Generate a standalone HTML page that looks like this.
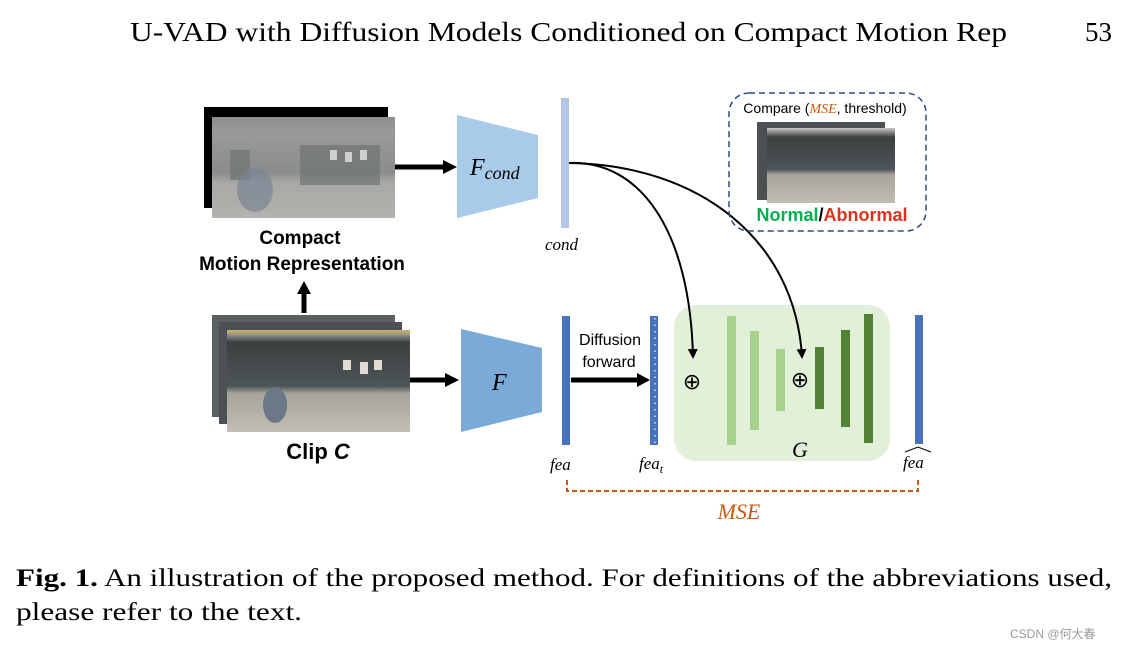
<!DOCTYPE html>
<html><head><meta charset="utf-8"><style>
html,body{margin:0;padding:0;background:#fff;}
svg{display:block;}
</style></head><body>
<svg width="1125" height="649" viewBox="0 0 1125 649" xmlns="http://www.w3.org/2000/svg">
<defs>
<linearGradient id="gTop" x1="0" y1="0" x2="0" y2="1">
<stop offset="0" stop-color="#8c8e90"/><stop offset="0.15" stop-color="#9a9a98"/><stop offset="0.55" stop-color="#8a8c8c"/><stop offset="0.65" stop-color="#a8a8a6"/><stop offset="1" stop-color="#b4b2ae"/>
</linearGradient>
<linearGradient id="gClip" x1="0" y1="0" x2="0" y2="1">
<stop offset="0" stop-color="#c8c8c8"/><stop offset="0.12" stop-color="#3c3f40"/><stop offset="0.55" stop-color="#4d5556"/><stop offset="0.62" stop-color="#a6a39c"/><stop offset="1" stop-color="#c2beb6"/>
</linearGradient>
<marker id="ah" markerWidth="10" markerHeight="10" refX="8" refY="5" orient="auto" markerUnits="userSpaceOnUse"><path d="M0,0 L10,5 L0,10 z" fill="#000"/></marker>
</defs>
<g font-family="Liberation Serif, serif" fill="#000">
<text x="130" y="41" font-size="27" textLength="877" lengthAdjust="spacingAndGlyphs">U-VAD with Diffusion Models Conditioned on Compact Motion Rep</text>
<text x="1085" y="41" font-size="27">53</text>
</g>
<!-- top image -->
<rect x="204" y="107" width="184" height="101" fill="#000"/>
<rect x="212" y="117" width="183" height="101" fill="url(#gTop)"/>
<g fill="#6f7274" opacity="0.7"><rect x="300" y="145" width="80" height="40"/><rect x="230" y="150" width="20" height="30"/></g>
<g fill="#d0d0d0"><rect x="330" y="150" width="7" height="10"/><rect x="345" y="152" width="7" height="10"/><rect x="360" y="150" width="7" height="10"/></g>
<ellipse cx="255" cy="190" rx="18" ry="22" fill="#7a8494" opacity="0.7"/>
<line x1="395" y1="167" x2="447" y2="167" stroke="#000" stroke-width="5"/>
<path d="M443,160 L457,167 L443,174 z" fill="#000"/>
<polygon points="457,115 538,135 538,198 457,218" fill="#a9cbea"/>
<text x="470" y="175" font-family="Liberation Serif, serif" font-style="italic" font-size="24">F<tspan font-size="18" dy="4">cond</tspan></text>
<rect x="561" y="98" width="8" height="130" fill="#b4c6e7"/>
<text x="545" y="250" font-family="Liberation Serif, serif" font-style="italic" font-size="17">cond</text>
<g font-family="Liberation Sans, sans-serif" font-weight="bold" font-size="19" text-anchor="middle">
<text x="300" y="244">Compact</text>
<text x="302" y="270">Motion Representation</text>
<text x="318" y="459" font-size="22">Clip <tspan font-style="italic">C</tspan></text>
</g>
<line x1="304" y1="313" x2="304" y2="292" stroke="#000" stroke-width="5"/>
<path d="M297,294 L304,281 L311,294 z" fill="#000"/>
<!-- clip -->
<rect x="212" y="315" width="183" height="102" fill="#5a5f60"/>
<rect x="219" y="322" width="183" height="102" fill="#4b5152"/>
<rect x="227" y="330" width="183" height="102" fill="url(#gClip)"/>
<g fill="#e0dcd4"><rect x="343" y="360" width="8" height="10"/><rect x="360" y="362" width="8" height="12"/><rect x="374" y="360" width="8" height="10"/></g>
<rect x="227" y="330" width="183" height="4" fill="#b8a030" opacity="0.5"/>
<ellipse cx="275" cy="405" rx="12" ry="18" fill="#6a7888"/>
<line x1="410" y1="380" x2="449" y2="380" stroke="#000" stroke-width="5"/>
<path d="M445,373 L459,380 L445,387 z" fill="#000"/>
<polygon points="461,329 542,348 542,412 461,432" fill="#7aaad8"/>
<text x="492" y="390" font-family="Liberation Serif, serif" font-style="italic" font-size="24">F</text>
<rect x="562" y="316" width="8" height="129" fill="#4a72b8"/>
<text x="550" y="470" font-family="Liberation Serif, serif" font-style="italic" font-size="17">fea</text>
<g font-family="Liberation Sans, sans-serif" font-size="16" text-anchor="middle">
<text x="610" y="345">Diffusion</text><text x="609" y="367">forward</text>
</g>
<line x1="571" y1="380" x2="640" y2="380" stroke="#000" stroke-width="5"/>
<path d="M637,373 L650,380 L637,387 z" fill="#000"/>
<rect x="650" y="316" width="8" height="129" fill="#4a72b8"/>
<line x1="655" y1="318" x2="655" y2="445" stroke="#fff" stroke-width="1.2" stroke-dasharray="1.5 5"/>
<text x="639" y="469" font-family="Liberation Serif, serif" font-style="italic" font-size="17">fea<tspan font-size="12" dy="4">t</tspan></text>
<!-- G -->
<rect x="674" y="305" width="216" height="156" rx="22" fill="#e2f0d9"/>
<rect x="727" y="316" width="9" height="129" fill="#a9d18e"/>
<rect x="750" y="331" width="9" height="99" fill="#a9d18e"/>
<rect x="776" y="349" width="9" height="62" fill="#a9d18e"/>
<rect x="815" y="347" width="9" height="62" fill="#548235"/>
<rect x="841" y="330" width="9" height="97" fill="#548235"/>
<rect x="864" y="314" width="9" height="129" fill="#548235"/>
<text x="692" y="389" font-family="DejaVu Sans, sans-serif" font-size="22" text-anchor="middle">⊕</text>
<text x="800" y="387" font-family="DejaVu Sans, sans-serif" font-size="22" text-anchor="middle">⊕</text>
<text x="800" y="457" font-family="Liberation Serif, serif" font-style="italic" font-size="22" text-anchor="middle">G</text>
<rect x="915" y="315" width="8" height="129" fill="#4a72b8"/>
<text x="903" y="468" font-family="Liberation Serif, serif" font-style="italic" font-size="17">fea</text>
<path d="M905,452 L918,447 L931,452" fill="none" stroke="#000" stroke-width="1"/>
<!-- curves -->
<path d="M569,163 C640,160 690,230 693,357" fill="none" stroke="#000" stroke-width="2" marker-end="url(#ah)"/>
<path d="M569,163 C700,165 795,240 802,357" fill="none" stroke="#000" stroke-width="2" marker-end="url(#ah)"/>
<!-- MSE bracket -->
<path d="M567,480 L567,491 L918,491 L918,480" fill="none" stroke="#c55a11" stroke-width="2" stroke-dasharray="5 3"/>
<text x="739" y="519" font-family="Liberation Serif, serif" font-style="italic" font-size="22" fill="#c55a11" text-anchor="middle">MSE</text>
<!-- compare box -->
<rect x="729" y="93" width="197" height="138" rx="20" fill="none" stroke="#2f4a7a" stroke-width="1.5" stroke-dasharray="6 4"/>
<text x="825" y="113" font-family="Liberation Sans, sans-serif" font-size="14" text-anchor="middle">Compare (<tspan fill="#c55a11" font-family="Liberation Serif, serif" font-style="italic">MSE</tspan>, threshold)</text>
<rect x="757" y="122" width="128" height="78" fill="#4b5152"/>
<rect x="767" y="128" width="128" height="75" fill="url(#gClip)"/>
<g font-family="Liberation Sans, sans-serif" font-weight="bold" font-size="18" text-anchor="middle">
<text x="832" y="221"><tspan fill="#00b050">Normal</tspan><tspan fill="#000">/</tspan><tspan fill="#e03020">Abnormal</tspan></text>
</g>
<!-- caption -->
<g font-family="Liberation Serif, serif" font-size="25">
<text x="16" y="586" textLength="1096" lengthAdjust="spacingAndGlyphs"><tspan font-weight="bold">Fig. 1.</tspan> An illustration of the proposed method. For definitions of the abbreviations used,</text>
<text x="16" y="620" textLength="286" lengthAdjust="spacingAndGlyphs">please refer to the text.</text>
</g>
<text x="1010" y="638" font-family="Liberation Sans, Noto Sans CJK SC, sans-serif" font-size="12" fill="#999">CSDN @何大春</text>
</svg>
</body></html>
